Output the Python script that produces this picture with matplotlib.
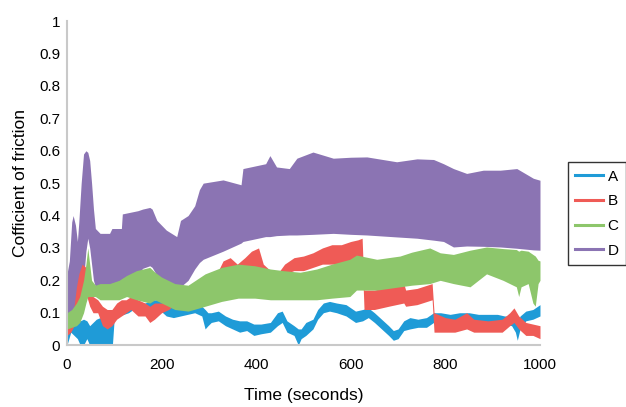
import matplotlib
matplotlib.use("Agg")
import matplotlib.pyplot as plt
from matplotlib.lines import Line2D

plt.rcParams['font.family'] = ['Liberation Sans', 'DejaVu Sans']

# Data: each run is drawn as a band (lower / upper envelope)
# A (blue)
t_a = [0, 4, 8, 15, 22, 28, 35, 42, 48, 55, 62, 70, 80, 90, 96, 100, 110, 120, 130, 140,
       150, 165, 180, 195, 210, 225, 240, 255, 270, 285, 292, 298, 305, 320, 335, 350, 365,
       380, 395, 410, 430, 445, 455, 465, 480, 489, 495, 505, 520, 530, 542, 555, 570, 590,
       610, 625, 637, 650, 665, 680, 690, 700, 712, 725, 742, 760, 775, 790, 810, 830, 850,
       870, 890, 910, 925, 940, 948, 952, 958, 970, 985, 1000]
lo_a = [0.0, 0.02, 0.04, 0.03, 0.02, 0.0, 0.0, 0.02, 0.0, 0.0, 0.0, 0.0, 0.0, 0.0, 0.0, 0.085,
        0.09, 0.095, 0.1, 0.11, 0.1, 0.105, 0.1, 0.11, 0.09, 0.085, 0.09, 0.095, 0.1, 0.09,
        0.05, 0.06, 0.07, 0.075, 0.06, 0.05, 0.04, 0.045, 0.03, 0.035, 0.04, 0.06, 0.07, 0.04,
        0.03, 0.0, 0.02, 0.03, 0.05, 0.08, 0.1, 0.105, 0.1, 0.09, 0.07, 0.075, 0.085, 0.07,
        0.05, 0.03, 0.015, 0.02, 0.045, 0.05, 0.055, 0.055, 0.07, 0.075, 0.07, 0.075, 0.07,
        0.07, 0.065, 0.07, 0.065, 0.06, 0.04, 0.015, 0.05, 0.075, 0.08, 0.09]
hi_a = [0.04, 0.07, 0.09, 0.085, 0.08, 0.075, 0.08, 0.075, 0.06, 0.07, 0.08, 0.085, 0.07, 0.08,
        0.11, 0.115, 0.12, 0.125, 0.13, 0.13, 0.125, 0.13, 0.14, 0.14, 0.12, 0.115, 0.115,
        0.12, 0.125, 0.12, 0.11, 0.1, 0.1, 0.105, 0.09, 0.08, 0.075, 0.075, 0.065, 0.065, 0.07,
        0.1, 0.105, 0.075, 0.06, 0.05, 0.05, 0.07, 0.08, 0.11, 0.13, 0.135, 0.13, 0.125, 0.105,
        0.11, 0.115, 0.1, 0.08, 0.06, 0.045, 0.05, 0.075, 0.085, 0.08, 0.085, 0.1, 0.1, 0.095,
        0.1, 0.1, 0.095, 0.095, 0.095, 0.09, 0.09, 0.08, 0.07, 0.09, 0.105, 0.11, 0.125]

# B (red)
t_b = [0, 8, 15, 20, 25, 32, 40, 48, 55, 65, 75, 85, 95, 105, 115, 125, 135, 150, 165, 175,
       185, 200, 215, 250, 300, 320, 330, 345, 360, 376, 390, 405, 415, 430, 445, 460, 480,
       500, 520, 540, 560, 580, 600, 615, 624, 628, 650, 680, 712, 716, 740, 772, 776, 800,
       820, 845, 860, 890, 920, 936, 945, 955, 970, 985, 1000]
lo_b = [0.03, 0.04, 0.06, 0.09, 0.12, 0.15, 0.16, 0.12, 0.1, 0.1, 0.06, 0.05, 0.06, 0.08, 0.09,
        0.1, 0.11, 0.09, 0.09, 0.07, 0.08, 0.1, 0.11, 0.15, 0.17, 0.2, 0.21, 0.22, 0.2, 0.22,
        0.23, 0.22, 0.2, 0.19, 0.19, 0.22, 0.23, 0.23, 0.24, 0.25, 0.25, 0.25, 0.26, 0.27,
        0.27, 0.11, 0.11, 0.12, 0.13, 0.12, 0.125, 0.14, 0.04, 0.04, 0.04, 0.05, 0.04, 0.04,
        0.04, 0.06, 0.07, 0.05, 0.03, 0.03, 0.02]
hi_b = [0.06, 0.07, 0.12, 0.18, 0.22, 0.25, 0.24, 0.16, 0.15, 0.14, 0.12, 0.11, 0.11, 0.13,
        0.14, 0.14, 0.15, 0.14, 0.13, 0.12, 0.13, 0.13, 0.14, 0.18, 0.21, 0.23, 0.26, 0.27,
        0.25, 0.27, 0.29, 0.3, 0.25, 0.23, 0.22, 0.25, 0.27, 0.275, 0.285, 0.3, 0.31, 0.31,
        0.32, 0.325, 0.33, 0.17, 0.17, 0.18, 0.19, 0.17, 0.175, 0.19, 0.1, 0.085, 0.08, 0.1,
        0.08, 0.075, 0.08, 0.1, 0.115, 0.09, 0.07, 0.065, 0.06]

# C (green)
t_c = [0, 10, 20, 27, 35, 40, 44, 48, 52, 60, 70, 90, 110, 126, 147, 175, 186, 200, 228, 256,
       292, 327, 362, 397, 430, 457, 493, 528, 560, 598, 612, 655, 704, 729, 767, 789, 817,
       852, 887, 922, 950, 955, 960, 975, 985, 990, 996, 1000]
lo_c = [0.05, 0.055, 0.06, 0.07, 0.1, 0.13, 0.15, 0.15, 0.15, 0.15, 0.14, 0.14, 0.14, 0.15,
        0.14, 0.13, 0.14, 0.13, 0.11, 0.105, 0.12, 0.135, 0.145, 0.145, 0.14, 0.14, 0.14, 0.14,
        0.145, 0.15, 0.17, 0.17, 0.18, 0.185, 0.19, 0.2, 0.19, 0.18, 0.22, 0.2, 0.18, 0.15,
        0.18, 0.19, 0.13, 0.12, 0.19, 0.2]
hi_c = [0.1, 0.11, 0.13, 0.15, 0.2, 0.25, 0.3, 0.25, 0.2, 0.185, 0.19, 0.19, 0.2, 0.215, 0.23,
        0.24, 0.225, 0.21, 0.19, 0.185, 0.22, 0.24, 0.25, 0.245, 0.235, 0.23, 0.225, 0.235,
        0.25, 0.265, 0.278, 0.265, 0.275, 0.287, 0.3, 0.285, 0.28, 0.293, 0.303, 0.298, 0.295,
        0.29, 0.293, 0.29, 0.28, 0.275, 0.262, 0.26]

# D (purple)
t_d = [0, 5, 10, 13, 18, 22, 25, 30, 35, 40, 44, 48, 52, 56, 60, 70, 90, 95, 115, 117, 150,
       160, 175, 180, 190, 210, 232, 240, 256, 270, 280, 288, 330, 368, 372, 420, 429, 443,
       470, 486, 520, 563, 600, 634, 697, 740, 775, 796, 817, 845, 880, 916, 951, 986, 1000]
lo_d = [0.05, 0.07, 0.08, 0.09, 0.1, 0.11, 0.12, 0.15, 0.2, 0.29, 0.33, 0.3, 0.25, 0.2, 0.18,
        0.185, 0.185, 0.19, 0.2, 0.205, 0.22, 0.237, 0.245, 0.24, 0.215, 0.19, 0.18, 0.18,
        0.2, 0.235, 0.255, 0.265, 0.29, 0.315, 0.32, 0.335, 0.335, 0.338, 0.34, 0.34, 0.342,
        0.345, 0.342, 0.34, 0.334, 0.33, 0.324, 0.32, 0.303, 0.306, 0.305, 0.303, 0.299,
        0.294, 0.293]
hi_d = [0.22, 0.26, 0.38, 0.4, 0.37, 0.32, 0.38, 0.5, 0.59, 0.6, 0.595, 0.57, 0.5, 0.42, 0.36,
        0.345, 0.345, 0.36, 0.36, 0.405, 0.415, 0.42, 0.425, 0.42, 0.385, 0.355, 0.335, 0.385,
        0.4, 0.43, 0.48, 0.5, 0.51, 0.495, 0.545, 0.56, 0.585, 0.55, 0.545, 0.577, 0.596,
        0.577, 0.58, 0.581, 0.566, 0.575, 0.573, 0.56, 0.545, 0.53, 0.54, 0.54, 0.545, 0.515,
        0.509]

labels = ["A", "B", "C", "D"]
colors = ["#1f9bd7", "#ef5b56", "#8dc66b", "#8b74b3"]

x_ticks = [0, 200, 400, 600, 800, 1000]
y_ticks = [0, 0.1, 0.2, 0.3, 0.4, 0.5, 0.6, 0.7, 0.8, 0.9, 1]
y_tick_labels = ["0", "0.1", "0.2", "0.3", "0.4", "0.5", "0.6", "0.7", "0.8", "0.9", "1"]

fig = plt.figure(figsize=(6.26, 4.07), dpi=100)
ax = fig.add_axes([0.107, 0.152, 0.7556, 0.796])

# purple first, then blue, red, green on top
ax.fill_between(t_d, lo_d, hi_d, color=colors[3], linewidth=0)
ax.fill_between(t_a, lo_a, hi_a, color=colors[0], linewidth=0)
ax.fill_between(t_b, lo_b, hi_b, color=colors[1], linewidth=0)
ax.fill_between(t_c, lo_c, hi_c, color=colors[2], linewidth=0)

ax.set_xlim(0, 1000)
ax.set_ylim(0, 1)
ax.set_xticks(x_ticks)
ax.set_yticks(y_ticks)
ax.set_yticklabels(y_tick_labels)
ax.tick_params(length=0, labelsize=11)
ax.tick_params(axis="x", pad=9)
ax.tick_params(axis="y", pad=5)

for s in ["top", "right"]:
    ax.spines[s].set_visible(False)
for s in ["left", "bottom"]:
    ax.spines[s].set_color("#c9c9c9")
    ax.spines[s].set_linewidth(1.5)

ax.set_xlabel("Time (seconds)", fontsize=12.5, labelpad=12)
ax.set_ylabel("Cofficient of friction", fontsize=12.5, labelpad=8)

handles = [Line2D([], [], color=c, lw=2.2) for c in colors]
leg = fig.legend(handles, labels, loc="upper left", bbox_to_anchor=(0.907, 0.602),
                 frameon=True, fancybox=False, edgecolor="black", fontsize=11,
                 handlelength=1.8, handletextpad=0.3, labelspacing=0.7,
                 borderpad=0.5, borderaxespad=0)
leg.get_frame().set_linewidth(1.0)

fig.savefig("out.png", dpi=100)
